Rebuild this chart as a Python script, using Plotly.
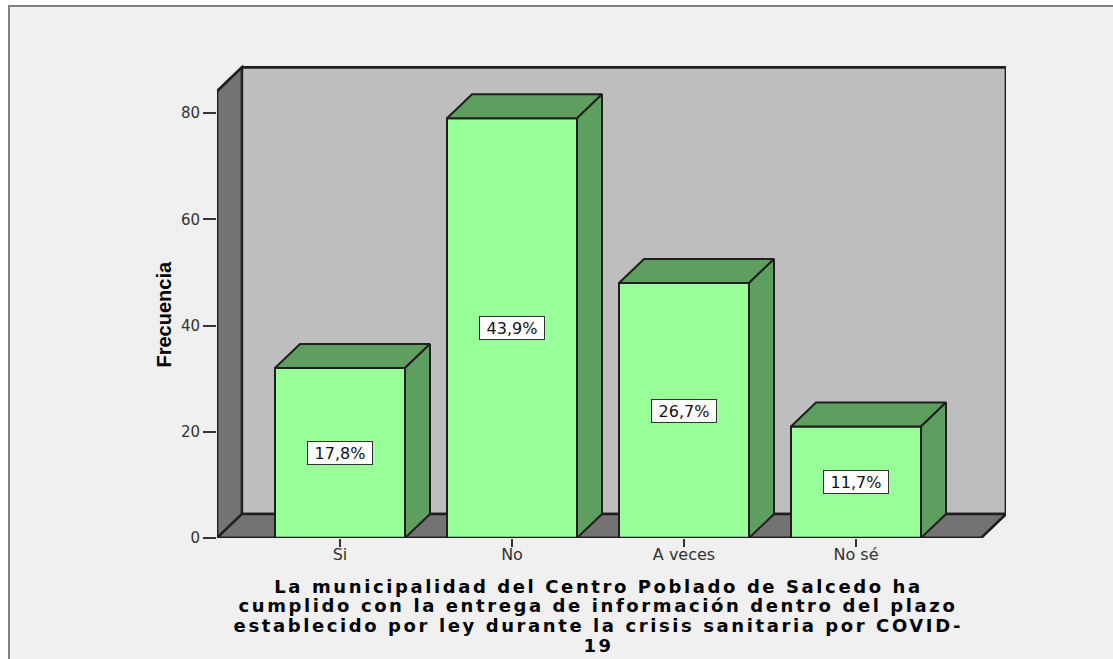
import plotly.graph_objects as go

categories = ["Si", "No", "A veces", "No sé"]
frequencies = [32, 79, 48, 21]
percent_labels = ["17,8%", "43,9%", "26,7%", "11,7%"]
y_ticks = [0, 20, 40, 60, 80]
x_title_lines = [
    "La municipalidad del Centro Poblado de Salcedo ha",
    "cumplido con la entrega de información dentro del plazo",
    "establecido por ley durante la crisis sanitaria por COVID-",
    "19",
]
y_title = "Frecuencia"

W, H = 1113, 659
L, R, T, B = 217, 1006, 60, 538
PX_X = 172.0
PX_Y = 5.3125
X0_PX = 340
BAR_W = 130 / PX_X
DX = 25 / PX_X
DY = 24 / PX_Y
X_MIN = (L - X0_PX) / PX_X
X_MAX = (R - X0_PX) / PX_X
Y_MAX = (B - T) / PX_Y
FRONT_RIGHT = (981 - X0_PX) / PX_X
WALL_TOP = 84.1

EDGE = "#1f1f1f"
WALL = "#737373"
BACK = "#bebebe"
FRONT = "#99ff99"
SHADE = "#5e9e5e"
BG = "#f0f0f0"


def poly(pts, fill):
    path = "M " + " L ".join(f"{x},{y}" for x, y in pts) + " Z"
    return dict(type="path", path=path, xref="x", yref="y", fillcolor=fill,
                line=dict(color=EDGE, width=2.4), layer="below")


def px(x):
    return (x - L) / (R - L)


def py(y):
    return (B - y) / (B - T)


shapes = [
    dict(type="rect", xref="paper", yref="paper", x0=px(9), x1=px(1140), y0=py(6), y1=py(700),
         fillcolor=BG, line=dict(color="#808080", width=2), layer="below"),
    poly([(X_MIN, 0), (X_MIN + DX, DY), (X_MIN + DX, WALL_TOP + DY), (X_MIN, WALL_TOP)], WALL),
    poly([(X_MIN + DX, DY), (X_MAX, DY), (X_MAX, WALL_TOP + DY), (X_MIN + DX, WALL_TOP + DY)], BACK),
    poly([(X_MIN, 0), (FRONT_RIGHT, 0), (X_MAX, DY), (X_MIN + DX, DY)], WALL),
]

xs = list(range(len(categories)))
fig = go.Figure()
fig.add_trace(go.Bar(x=xs, y=frequencies, width=BAR_W, marker=dict(color=FRONT, line=dict(color=EDGE, width=2)),
                     showlegend=False, hoverinfo="skip"))

# outer frame edges of the 3D box, unclipped so they keep their full width at the axes limits
fig.add_trace(go.Scatter(
    x=[X_MIN + DX, X_MIN, X_MIN, FRONT_RIGHT, X_MAX, X_MAX, X_MIN + DX],
    y=[WALL_TOP + DY, WALL_TOP, 0, 0, DY, WALL_TOP + DY, WALL_TOP + DY],
    mode="lines", line=dict(color=EDGE, width=2.4), cliponaxis=False,
    showlegend=False, hoverinfo="skip"))

for i, v in zip(xs, frequencies):
    xl, xr = i - BAR_W / 2, i + BAR_W / 2
    fig.add_trace(go.Scatter(x=[xl, xr, xr + DX, xl + DX, xl], y=[v, v, v + DY, v + DY, v], mode="lines",
                             fill="toself", fillcolor=SHADE, line=dict(color=EDGE, width=2),
                             showlegend=False, hoverinfo="skip"))
    fig.add_trace(go.Scatter(x=[xr, xr + DX, xr + DX, xr, xr], y=[0, DY, v + DY, v, 0], mode="lines",
                             fill="toself", fillcolor=SHADE, line=dict(color=EDGE, width=2),
                             showlegend=False, hoverinfo="skip"))

annotations = []
for i, v, t in zip(xs, frequencies, percent_labels):
    annotations.append(dict(x=i, y=v / 2, xref="x", yref="y", text=t, showarrow=False,
                            font=dict(family="DejaVu Sans", size=16, color="#111111"),
                            bgcolor="#ffffff", bordercolor="#333333", borderwidth=1, borderpad=2,
                            width=60, height=18))

title_y = [586, 605.5, 625.5, 645]
for t, yp in zip(x_title_lines, title_y):
    annotations.append(dict(x=px(598), y=py(yp), xref="paper", yref="paper", text=t, showarrow=False,
                            yanchor="middle", xanchor="center",
                            font=dict(family="DejaVu Sans", size=18, color="#000000", weight="bold")))

annotations.append(dict(x=px(150), y=py(314.5), xref="paper", yref="paper", text=y_title, showarrow=False,
                        textangle=-90, font=dict(family="Liberation Sans", size=20, color="#000000", weight="bold")))

fig.update_layout(
    width=W, height=H, autosize=False,
    margin=dict(l=L, r=W - R, t=T, b=H - B, pad=0),
    paper_bgcolor="#ffffff", plot_bgcolor="rgba(0,0,0,0)",
    shapes=shapes, annotations=annotations, showlegend=False,
    font=dict(family="DejaVu Sans", size=16, color="#333333"),
    xaxis=dict(range=[X_MIN, X_MAX], tickvals=xs, ticktext=categories, ticks="outside", ticklen=8,
               tickwidth=2, tickcolor="#333333", showgrid=False, zeroline=False, showline=False,
               ticklabelstandoff=-6,
               tickfont=dict(family="DejaVu Sans", size=16, color="#333333")),
    yaxis=dict(range=[0, Y_MAX], tickvals=y_ticks, ticks="outside", ticklen=13, tickwidth=2,
               tickcolor="#333333", showgrid=False, zeroline=False, showline=False,
               tickfont=dict(family="DejaVu Sans", size=15, color="#333333")),
)

post = """
document.body.style.margin='0';
(function(){
  var gd=document.querySelector('.plotly-graph-div');
  function apply(){
    document.querySelectorAll('.annotation-text').forEach(function(t){
      if(parseFloat(t.style.fontSize)===18){
        t.style.letterSpacing='2.6px';
      }
    });
  }
  apply();
  if(gd&&gd.on){gd.on('plotly_afterplot',apply);}
  setTimeout(apply,50);
})();
"""
fig.write_html("out.html", post_script=post, config={"displayModeBar": False})
